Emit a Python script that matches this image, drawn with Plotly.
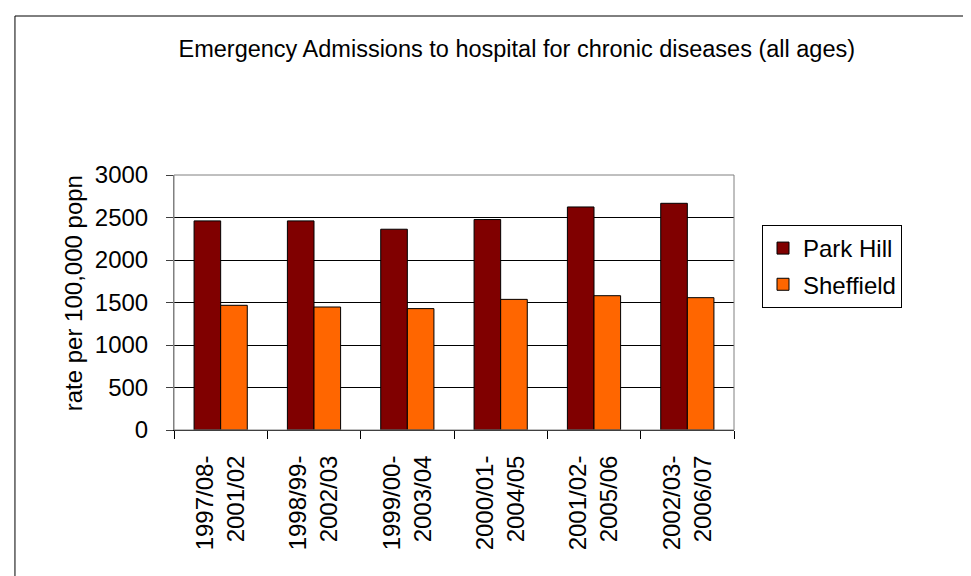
import plotly.graph_objects as go

# periods (two-line labels, as in the source sheet)
periods = ["1997/08-<br>2001/02", "1998/99-<br>2002/03", "1999/00-<br>2003/04",
           "2000/01-<br>2004/05", "2001/02-<br>2005/06", "2002/03-<br>2006/07"]
park_hill = [2460, 2460, 2362, 2476, 2624, 2667]
sheffield = [1467, 1447, 1428, 1537, 1580, 1557]

font = dict(family="Liberation Sans, Arial, sans-serif", size=24, color="black")

fig = go.Figure()
fig.add_trace(go.Bar(x=periods, y=park_hill, name="Park Hill", legendgroup="a",
                     marker=dict(color="#800000", line=dict(color="black", width=1))))
fig.add_trace(go.Bar(x=periods, y=sheffield, name="Sheffield", legendgroup="b",
                     marker=dict(color="#FF6600", line=dict(color="black", width=1))))

xaxis = dict(
    type="category",
    tickson="boundaries",
    ticks="outside",
    ticklen=8,
    tickcolor="black",
    tickangle=-90,
    ticklabelstandoff=15,
    showline=True,
    linecolor="black",
    linewidth=1,
    showgrid=False,
    tickfont=font,
)
yaxis = dict(
    range=[0, 3000],
    dtick=500,
    ticks="outside",
    ticklen=7,
    tickcolor="#404040",
    ticklabelstandoff=13,
    showline=True,
    linecolor="#808080",
    linewidth=1,
    showgrid=True,
    gridcolor="black",
    gridwidth=1,
    zeroline=False,
    tickfont=font,
)

fig.update_layout(
    width=971, height=576,
    margin=dict(l=166, r=245, t=167, b=154),
    plot_bgcolor="white", paper_bgcolor="white",
    font=font,
    bargap=0.43, bargroupgap=0,
    xaxis=xaxis, yaxis=yaxis,
    showlegend=True,
    legend=dict(x=1.05, y=0.804, xanchor="left", yanchor="top",
                bordercolor="black", borderwidth=1, bgcolor="white",
                tracegroupgap=2, font=font),
    title=dict(text="Emergency Admissions to hospital for chronic diseases (all ages)",
               xref="container", x=0.524, xanchor="center",
               yref="container", y=0.93, yanchor="middle",
               font=dict(family=font["family"], size=23.5, color="black")),
)

# y-axis title placed as text so it sits where the original does
fig.add_annotation(text="rate per 100,000 popn", textangle=-90, showarrow=False,
                   xref="paper", yref="paper", x=-0.18, y=0.537,
                   xanchor="center", yanchor="middle", font=font)

# plot-area border (grey) and the chart frame running off the page
fig.add_shape(type="rect", xref="paper", yref="paper", x0=0, y0=0, x1=1, y1=1,
              line=dict(color="#808080", width=1), layer="above")
fig.add_shape(type="line", xref="paper", yref="paper", x0=-0.284, y0=1.6235, x1=2, y1=1.6235,
              line=dict(color="black", width=1))
fig.add_shape(type="line", xref="paper", yref="paper", x0=-0.284, y0=1.6235, x1=-0.284, y1=-1,
              line=dict(color="black", width=1))

fig.write_html("out.html")
